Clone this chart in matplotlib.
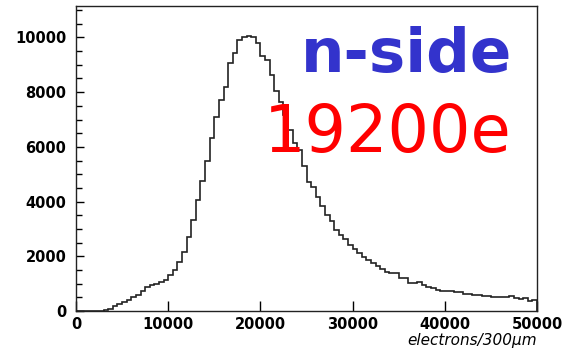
import numpy as np
import matplotlib
matplotlib.use('Agg')
import matplotlib.pyplot as plt
from matplotlib.ticker import MultipleLocator

# bin edges: 0 .. 50000 electrons, 500 per bin
bin_width = 500
x_max = 50000

# counts per bin
counts = [0, 0, 0, 0, 0, 0, 30, 90, 170, 260,
          340, 420, 500, 600, 730, 870, 960, 990, 1070, 1140,
          1320, 1500, 1800, 2170, 2700, 3330, 4040, 4740, 5500, 6330,
          7100, 7720, 8200, 9070, 9440, 9890, 10000, 10040, 10000, 9800,
          9340, 9190, 8640, 8030, 7630, 7180, 6600, 6140, 5900, 5290,
          4700, 4520, 4170, 3830, 3500, 3280, 2950, 2780, 2630, 2420,
          2260, 2110, 1965, 1870, 1746, 1648, 1526, 1440, 1380, 1380,
          1200, 1200, 1040, 1040, 1075, 952, 891, 830, 769, 744,
          744, 744, 708, 708, 623, 623, 586, 586, 549, 549,
          500, 500, 525, 500, 549, 464, 427, 464, 378, 403]

x_ticks = [0, 10000, 20000, 30000, 40000, 50000]
y_ticks = [0, 2000, 4000, 6000, 8000, 10000]

edges = np.arange(0, x_max + bin_width, bin_width)

fig = plt.figure(figsize=(5.63, 3.51), dpi=100)
ax = fig.add_axes([76/563, 1 - 311/351, (537 - 76)/563, (311 - 6)/351])

ax.stairs(counts, edges, color='#222222', lw=1.2)

ax.set_xlim(0, x_max)
ax.set_ylim(0, 11150)
ax.set_xticks(x_ticks)
ax.set_yticks(y_ticks)
ax.yaxis.set_minor_locator(MultipleLocator(500))
ax.tick_params(axis='both', which='both', direction='in', top=False, right=False)
ax.tick_params(axis='y', which='major', length=6, width=1, pad=7)
ax.tick_params(axis='y', which='minor', length=4, width=1)
ax.tick_params(axis='x', which='major', length=7, width=1, pad=4)
for lab in ax.get_xticklabels() + ax.get_yticklabels():
    lab.set_fontfamily('DejaVu Sans')
    lab.set_fontweight('bold')
    lab.set_fontsize(10.5)
for sp in ax.spines.values():
    sp.set_linewidth(1.0)
    sp.set_color('#222222')

fig.text(537/563, 1 - 345/351, 'electrons/300\u03bcm', ha='right', va='baseline',
         fontsize=11, style='italic', family='DejaVu Sans')

fig.text(512/563, 1 - 72/351, 'n-side', ha='right', va='baseline',
         fontsize=44, fontweight='bold', color='#3333cc', family='DejaVu Sans')
fig.text(512/563, 1 - 152/351, '19200e', ha='right', va='baseline',
         fontsize=47, color='#ff0000', family='DejaVu Sans')

fig.savefig('out.png', dpi=100)
